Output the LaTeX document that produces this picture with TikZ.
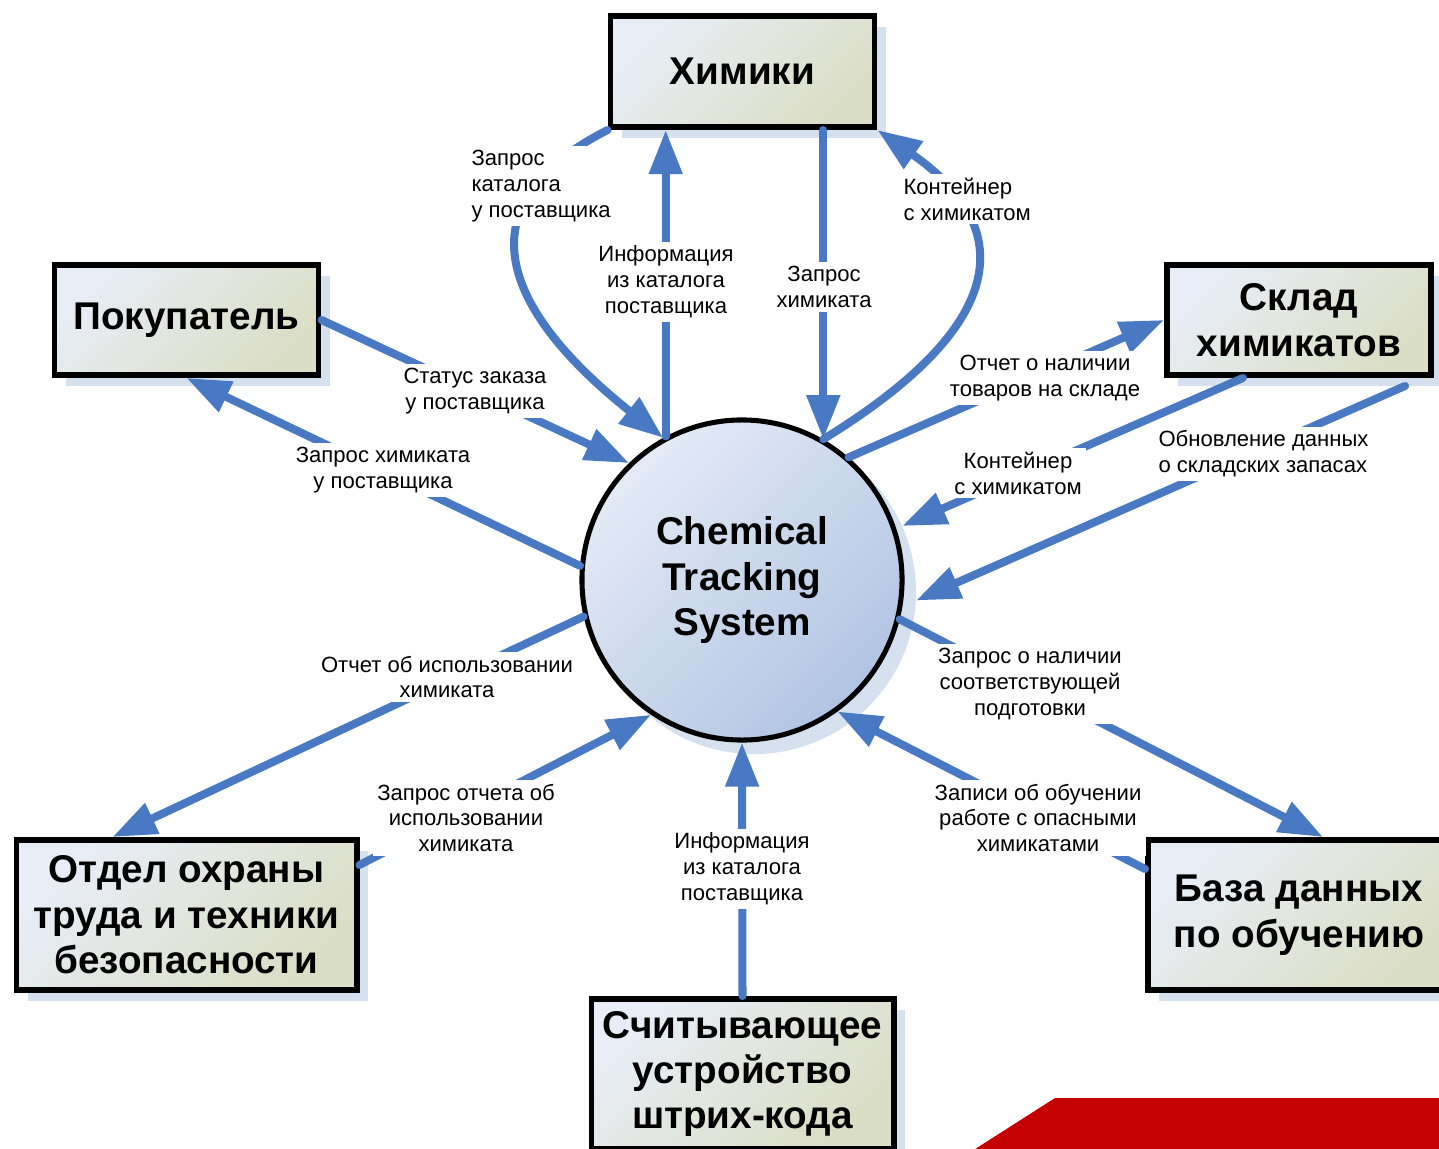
\documentclass[tikz,border=0pt]{standalone}
\usepackage{fontspec}
\setmainfont{Liberation Sans}
\usetikzlibrary{arrows.meta,shadows}
\definecolor{flowblue}{RGB}{72,121,194}
\definecolor{shadeblue}{RGB}{214,225,240}
\definecolor{boxtl}{RGB}{232,237,247}
\definecolor{boxbr}{RGB}{218,222,196}
\definecolor{balltl}{RGB}{228,235,246}
\definecolor{ballbr}{RGB}{176,196,226}
\definecolor{redbar}{RGB}{196,0,0}

\begin{document}
\begin{tikzpicture}[x=0.025cm, y=-0.025cm,
  actor/.style={draw, line width=4.2pt, top color=boxtl, bottom color=boxbr, shading angle=45,
    drop shadow={shadow xshift=0.28cm, shadow yshift=-0.28cm, fill=shadeblue, opacity=1},
    align=center, inner sep=0pt, font=\fontsize{27.5}{32.3}\selectfont\bfseries},
  system/.style={circle, draw, line width=3.6pt, minimum size=8cm, top color=balltl, bottom color=ballbr,
    shading angle=45, align=center, inner sep=0pt, font=\fontsize{27.5}{32.3}\selectfont\bfseries},
  systemshade/.style={circle, fill=shadeblue, minimum size=8.1cm, inner sep=0pt},
  flow/.style={draw=flowblue, line width=5.7pt, line cap=round, -{Triangle[length=1.1cm, width=0.8cm]}},
  flowlbl/.style={fill=white, inner sep=3pt, align=center, font=\fontsize{15.7}{18.4}\selectfont}]
	\useasboundingbox (0,0) rectangle (1439,1149);
	\fill[redbar] (958,1160) -- (1055,1098) -- (1450,1098) -- (1450,1160) -- cycle;

	\node[systemshade] (ctsshade) at (754,592) {};
	\node[system] (cts) at (742,580) {Chemical\\Tracking\\System};
	\node[actor, minimum width=6.6cm, minimum height=2.78cm] (chem) at (742.5,71.5) {Химики};
	\node[actor, minimum width=6.6cm, minimum height=2.75cm] (buyer) at (186.5,320) {Покупатель};
	\node[actor, minimum width=6.6cm, minimum height=2.75cm] (store) at (1299,320) {Склад\\химикатов};
	\node[actor, minimum width=8.5cm, minimum height=3.75cm] (safety) at (186.5,915) {Отдел охраны\\труда и техники\\безопасности};
	\node[actor, minimum width=7.55cm, minimum height=3.75cm] (training) at (1299,915) {База данных\\по обучению};
	\node[actor, minimum width=7.55cm, minimum height=3.75cm] (reader) at (742.5,1074) {Считывающее\\устройство\\штрих-кода};

	\draw[flow] (chem.south west) .. controls (450,210) and (515,320) .. (cts.119);
	\draw[flow] (cts.118) -- (cts.118 |- chem.south);
	\draw[flow] (cts.60 |- chem.south) -- (cts.60);
	\draw[flow] (cts.60) .. controls (1050,300) and (985,205) .. (chem.south east);
	\draw[flow] (buyer.east) -- (cts.134);
	\draw[flow] (cts.175) -- (buyer.south);
	\draw[flow] (cts.49) -- (store.west);
	\draw[flow] ([xshift=-1.4cm]store.south) -- (ctsshade.24);
	\draw[flow] ([xshift=2.65cm, yshift=-0.2cm]store.south) -- (ctsshade.-3);
	\draw[flow] (cts.193) -- ([xshift=-1.85cm]safety.north);
	\draw[flow] ([yshift=1.25cm]safety.east) -- (cts.236);
	\draw[flow] (reader.north) -- (cts.south);
	\draw[flow] ([yshift=1.15cm]training.west) -- (cts.-54);
	\draw[flow] (cts.-14) -- ([xshift=0.6cm]training.north);

	\node[flowlbl, anchor=west, align=left] (catreq) at (467,186) {Запрос\\каталога\\у поставщика};
	\node[flowlbl] (catinfo) at (666,282) {Информация\\из каталога\\поставщика};
	\node[flowlbl] (chemreq) at (824,287) {Запрос\\химиката};
	\node[flowlbl, anchor=west, align=left] (contup) at (899,199) {Контейнер\\с химикатом};
	\node[flowlbl] (status) at (475,391) {Статус заказа\\у поставщика};
	\node[flowlbl] (buyreq) at (383,470) {Запрос химиката\\у поставщика};
	\node[flowlbl] (stockrep) at (1045,378) {Отчет о наличии\\товаров на складе};
	\node[flowlbl] (contin) at (1018,473) {Контейнер\\с химикатом};
	\node[flowlbl, anchor=west, align=left] (stockupd) at (1154,454) {Обновление данных\\о складских запасах};
	\node[flowlbl] (userep) at (447,677) {Отчет об использовании\\химиката};
	\node[flowlbl] (usereq) at (466,818) {Запрос отчета об\\использовании\\химиката};
	\node[flowlbl] (scaninfo) at (742,869) {Информация\\из каталога\\поставщика};
	\node[flowlbl] (trainrec) at (1038,818) {Записи об обучении\\работе с опасными\\химикатами};
	\node[flowlbl] (trainreq) at (1030,684) {Запрос о наличии\\соответствующей\\подготовки};
\end{tikzpicture}
\end{document}
